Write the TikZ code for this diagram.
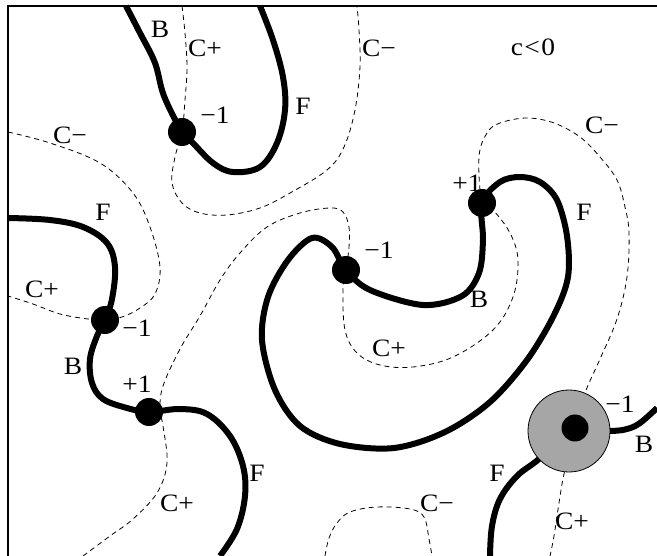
\documentclass[tikz,border=0pt]{standalone}
\usepackage{fontspec}
\setmainfont{Liberation Serif}[FakeStretch=1.1]
\usetikzlibrary{positioning}

\begin{document}
\begin{tikzpicture}[x=1pt,y=-1pt,
  fold/.style={line width=6pt},
  crit/.style={line width=0.8pt, dash pattern=on 5pt off 4pt},
  cusp/.style={circle, fill=black, inner sep=0pt, minimum size=28pt},
  swallow/.style={circle, fill=black!35, draw=black, line width=0.8pt, inner sep=0pt, minimum size=82pt},
  lab/.style={font=\fontsize{25}{29}\selectfont, inner sep=0pt}]

\useasboundingbox (0,0) rectangle (657,556);

% frame
\draw[line width=1.2pt] (8,556) -- (8,6) -- (657,6);

% cusp points
\coordinate (pA) at (182,132);
\coordinate (pB) at (105,320);
\coordinate (pC) at (149,412);
\coordinate (pD) at (482,203);
\coordinate (pE) at (346,270);
\coordinate (pG) at (569,431);
\coordinate (pI) at (575,428);

%% dashed curves
\draw[crit] plot[smooth, tension=0.6] coordinates {(182,6) (185,33) (187,67) (185,100) (pA) (175,157) (172,183) (182,203) (200,213) (227,215) (260,208) (290,193) (327,170) (344,147) (355,110) (360,67) (359,30) (357,6)};
\draw[crit] plot[smooth, tension=0.6] coordinates {(8,132) (50,143) (100,163) (133,193) (150,227) (160,267) (155,294) (140,308) (122,317) (pB) (88,319) (60,314) (33,304) (8,296)};
\draw[crit] plot[smooth, tension=0.6] coordinates {(83,556) (110,536) (133,519) (157,493) (167,463) (163,426) (160,410) (163,386) (180,349) (200,316) (220,280) (240,253) (267,227) (300,213) (330,208) (343,212) (349,227) (349,247) (pE) (343,290) (345,330) (357,353) (380,365) (413,367) (453,357) (493,330) (513,297) (518,260) (510,233) (493,210) (pD) (479,157) (487,133) (500,123) (527,118) (554,123) (580,137) (600,157) (617,180) (625,207) (629,233) (627,277) (617,319) (600,359) (585,393) (pI) (564,474) (559,503) (554,536) (550,556)};
\draw[crit] plot[smooth, tension=0.6] coordinates {(325,556) (329,538) (337,523) (350,512) (377,507) (410,509) (424,517) (429,539) (432,556)};

%% fold curves
\draw[fold] plot[smooth, tension=0.6] coordinates {(126,6) (140,33) (155,63) (164,96) (pA) (192,142) (213,163) (233,172) (260,167) (277,143) (285,110) (283,77) (273,40) (260,6)};
\draw[fold] plot[smooth, tension=0.6] coordinates {(8,218) (50,220) (83,227) (107,243) (115,267) (112,299) (pB) (97,336) (90,359) (92,383) (103,399) (127,408) (pC) (180,409) (207,414) (230,436) (243,466) (245,496) (237,529) (220,556)};
\draw[fold] plot[smooth cycle, tension=0.55] coordinates {(pD) (500,182) (520,177) (540,182) (557,200) (567,236) (568,277) (554,315) (527,360) (490,402) (445,432) (394,448) (340,444) (300,426) (275,390) (262,340) (268,297) (288,260) (312,238) (332,247) (pE) (370,290) (423,305) (462,296) (479,273) (483,240)};
\draw[fold] plot[smooth, tension=0.6] coordinates {(pG) (610,431) (627,429) (640,423) (657,408)};
\draw[fold] plot[smooth, tension=0.6] coordinates {(pG) (539,459) (517,476) (500,499) (492,526) (490,556)};

% dots
\node[cusp] (cuspA) at (pA) {};
\node[cusp] (cuspB) at (pB) {};
\node[cusp] (cuspC) at (pC) {};
\node[cusp] (cuspD) at (pD) {};
\node[cusp] (cuspE) at (pE) {};
\node[swallow] (tail) at (pG) {};
\node[cusp, minimum size=27pt] (tailDot) at (pI) {};

%% labels
\node[lab] (sign) at (533,47) {c\hspace{0.06em}<\hspace{0.06em}0};
% top
\node[lab] (bTop) at (160,29) {B};
\node[lab] (cpTop) at (205,48) {C+};
\node[lab] (mA) at (215,115) {−1};
\node[lab] (fTop) at (303,106) {F};
\node[lab] (cmTop) at (379,48) {C−};
% left
\node[lab] (cmLeft) at (70,135) {C−};
\node[lab] (fLeft) at (103,212) {F};
\node[lab] (cpLeft) at (42,289) {C+};
\node[lab] (mB) at (137,328) {−1};
\node[lab] (bLeft) at (73,366) {B};
\node[lab] (pCl) at (137,384) {+1};
\node[lab] (fLow) at (257,473) {F};
\node[lab] (cpLow) at (177,503) {C+};
% middle
\node[lab] (pDl) at (467,183) {+1};
\node[lab] (cmRight) at (602,125) {C−};
\node[lab] (fRight) at (584,212) {F};
\node[lab] (mE) at (379,250) {−1};
\node[lab] (bMid) at (479,299) {B};
\node[lab] (cpMid) at (389,348) {C+};
% lower right
\node[lab] (mG) at (620,404) {−1};
\node[lab] (bRight) at (644,444) {B};
\node[lab] (fTail) at (497,473) {F};
\node[lab] (cmLow) at (437,503) {C−};
\node[lab] (cpTail) at (572,521) {C+};

\end{tikzpicture}
\end{document}
